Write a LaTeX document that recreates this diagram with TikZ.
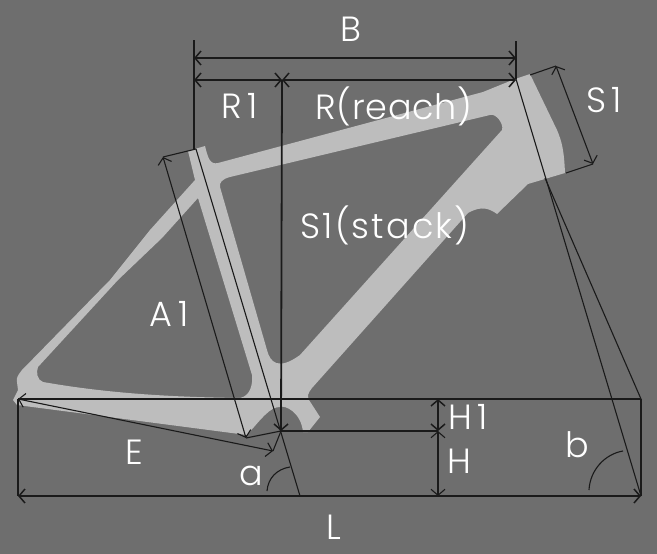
\documentclass[tikz,border=0pt]{standalone}
\usepackage{fontspec}
\setmainfont{Poppins}[UprightFont=* Light, LetterSpace=6]
\usetikzlibrary{arrows.meta}
\definecolor{backgrey}{HTML}{6E6E6E}
\definecolor{framegrey}{HTML}{BDBDBD}
\definecolor{inkblack}{HTML}{1A1A1A}
\tikzset{
	line/.style = {draw=inkblack, line width=1.1pt},
	heavy/.style = {draw=inkblack, line width=1.8pt},
	dimheavy/.style = {heavy, {Straight Barb[length=6pt,width=14pt,line width=1.5pt]}-{Straight Barb[length=6pt,width=14pt,line width=1.5pt]}},
	dimthin/.style = {line, {Straight Barb[length=6pt,width=14pt]}-{Straight Barb[length=6pt,width=14pt]}},
	lbl/.style = {text=white, font=\fontsize{35}{35}\selectfont, inner sep=0pt},
	lblwide/.style = {lbl, font=\fontsize{35}{35}\selectfont\addfontfeature{LetterSpace=16}},
	lblnarrow/.style = {lbl, font=\fontsize{35}{35}\selectfont\addfontfeature{LetterSpace=2}}
}

\begin{document}
\begin{tikzpicture}[x=1pt, y=-1pt]
	\fill[backgrey] (0,0) rectangle (657,554);
	\useasboundingbox (0,0) rectangle (657,554);

	% frame with its two holes
	\fill[framegrey, even odd rule]
		(188,151) -- (205,146) .. controls (208,158) and (210,165) .. (218,163)
		-- (483,92) -- (515,79) -- (530,74) -- (557,130)
		.. controls (562,142) and (564,150) .. (565,173)
		-- (528,184) -- (497,214) .. controls (490,209) and (482,205) .. (468,213)
		-- (312,388) .. controls (308,393) and (307,396) .. (309,400)
		-- (320,417) -- (308,432) -- (303,432)
		.. controls (301,412) and (285,405) .. (280,407)
		.. controls (270,407) and (262,418) .. (247,435)
		-- (17,405) -- (13,400) -- (18,390) -- (17,382)
		.. controls (16,378) and (18,375) .. (22,370)
		-- (110,280) -- (150,230) -- (195,180) -- cycle
		(198,198) -- (162,238) -- (118,280) -- (38,367)
		.. controls (36,372) and (37,380) .. (43,382)
		.. controls (100,392) and (160,397) .. (240,398)
		.. controls (250,396) and (253,385) .. (252,375) -- cycle
		(230,177) .. controls (222,179) and (219,183) .. (220,187)
		-- (267,350) .. controls (270,362) and (278,371) .. (300,355)
		-- (502,130) .. controls (504,124) and (496,113) .. (490,115) -- cycle;

	\coordinate (stl) at (194,40);
	\coordinate (stb) at (194,149);
	\coordinate (bl) at (194,58);
	\coordinate (br) at (516,58);
	\coordinate (rl) at (194,80);
	\coordinate (rm) at (282,80);
	\coordinate (rr) at (516,80);
	\coordinate (htt) at (516,41);
	\coordinate (htb) at (516,79);
	\coordinate (stem) at (281,431);
	\coordinate (sttop) at (196,149);
	\coordinate (stfoot) at (300,496);
	\coordinate (atop) at (163,157);
	\coordinate (abot) at (246,438);
	\coordinate (axle) at (18,399);
	\coordinate (ee) at (273,451);
	\coordinate (fl) at (18,496);
	\coordinate (fr) at (641,496);
	\coordinate (tr) at (641,399);
	\coordinate (hr) at (438,431);
	\coordinate (h1t) at (438,399);
	\coordinate (hb) at (438,496);
	\coordinate (crown) at (545,178);
	\coordinate (sa) at (530,75);
	\coordinate (sb) at (556,66);
	\coordinate (sc) at (593,164);
	\coordinate (sd) at (566,173);

	% dimension lines
	\draw[heavy] (stl) -- (stb);
	\draw[heavy] (htt) -- (htb);
	\draw[dimheavy] (bl) -- (br);
	\draw[dimheavy] (rl) -- (rm);
	\draw[dimheavy] (rm) -- (rr);
	\draw[heavy, -{Straight Barb[length=6pt,width=14pt,line width=1.5pt]}] (rm) -- (stem);

	\draw[line] (sttop) -- (stfoot);
	\draw[line] (atop) -- (sttop);
	\draw[dimthin] (atop) -- (abot);
	\draw[line] (abot) -- (stem);
	\draw[dimthin] (axle) -- (ee);
	\draw[line] (ee) -- (stem);

	\draw[line] (axle) -- (tr);
	\draw[line] (axle) -- (fl);
	\draw[line] (tr) -- (fr);
	\draw[heavy] (stem) -- (hr);
	\draw[dimheavy] (fl) -- (fr);
	\draw[dimheavy] (h1t) -- (hr);
	\draw[dimthin] (hr) -- (hb);

	\draw[line] (htb) -- (fr);
	\draw[line] (crown) -- (tr);
	\draw[line] (sa) -- (sb);
	\draw[dimthin] (sb) -- (sc);
	\draw[line] (sc) -- (sd);

	% angles
	\draw[line] (267,491) .. controls (268,478) and (277,469) .. (290,467);
	\draw[line] (589,490) .. controls (590,470) and (605,454) .. (623,451);

	\node[lbl] (labelb) at (351,29) {B};
	\node[lblwide] (labelrone) at (240,106) {R1};
	\node[lblnarrow] (labelreach) at (394,106) {R(reach)};
	\node[lblwide] (labelsone) at (604,100) {S1};
	\node[lbl] (labelstack) at (385,225) {S1(stack)};
	\node[lblwide] (labelaone) at (169,314) {A1};
	\node[lbl] (labele) at (134,452) {E};
	\node[lbl] (labela) at (251,476) {a};
	\node[lblwide] (labelhone) at (468,417) {H1};
	\node[lbl] (labelh) at (459,461) {H};
	\node[lbl] (labell) at (334,527) {L};
	\node[lbl] (labelbb) at (577,445) {b};
\end{tikzpicture}
\end{document}
